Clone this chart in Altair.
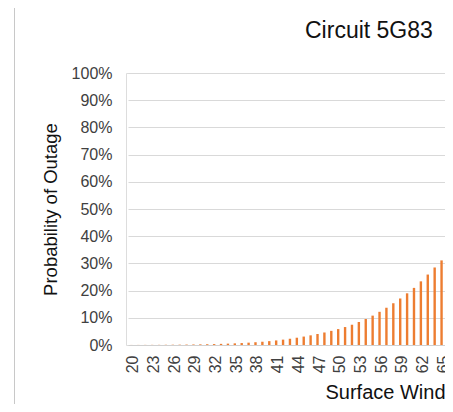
import altair as alt
import pandas as pd

# Surface wind speed categories (visible part of the chart)
wind = list(range(20, 66))
# Probability of outage in percent
prob_pct = [0.02, 0.03, 0.04, 0.05, 0.06, 0.08, 0.10, 0.12, 0.15, 0.19,
            0.23, 0.28, 0.34, 0.42, 0.50, 0.60, 0.72, 0.86, 1.02, 1.20,
            1.42, 1.68, 1.97, 2.30, 2.68, 3.10, 3.55, 4.05, 4.60, 5.20,
            5.85, 6.60, 7.45, 8.45, 9.55, 10.8, 12.2, 13.7, 15.35, 17.1,
            19.0, 21.0, 23.4, 25.9, 28.5, 31.1]
x_tick_labels = list(range(20, 66, 3))
y_tick_values = [i / 10 for i in range(11)]
chart_title = ["Circuit 5G83"]

df = pd.DataFrame({"wind": wind, "prob": [p / 100 for p in prob_pct]})
title_df = pd.DataFrame({"label": chart_title})

FONT = "Liberation Sans"

bars = alt.Chart(df).mark_bar(color="#ED7D31", size=2.4).encode(
    x=alt.X(
        "wind:O",
        sort=wind,
        scale=alt.Scale(paddingInner=0, paddingOuter=0, range=[2, 319]),
        axis=alt.Axis(
            values=x_tick_labels,
            labelAngle=270,
            labelPadding=10,
            labelOffset=2,
            labelFontSize=16,
            labelFont=FONT,
            labelColor="#404040",
            ticks=False,
            domainColor="#d0d0d0",
            domainWidth=1,
            title="Surface Wind",
            titleFont=FONT,
            titleFontSize=20,
            titleFontWeight="normal",
            titleColor="#111111",
            titleAlign="left",
            titleAnchor="start",
            titleBaseline="alphabetic",
            titleX=199,
            titleY=53,
        ),
    ),
    y=alt.Y(
        "prob:Q",
        scale=alt.Scale(domain=[0, 1]),
        axis=alt.Axis(
            values=y_tick_values,
            format=".0%",
            labelFontSize=16,
            labelFont=FONT,
            labelColor="#404040",
            labelPadding=14,
            ticks=False,
            domain=False,
            grid=True,
            gridColor="#d9d9d9",
            gridWidth=1,
            title="Probability of Outage",
            titleFont=FONT,
            titleFontSize=18.5,
            titleFontWeight="normal",
            titleColor="#111111",
            titlePadding=11,
        ),
    ),
)

title_text = alt.Chart(title_df).mark_text(
    font=FONT, fontSize=23, color="#111111", align="left", baseline="alphabetic"
).encode(
    x=alt.value(179), y=alt.value(-35), text="label:N"
)

border = alt.Chart(title_df).mark_rule(color="#c8c8c8", strokeWidth=1).encode(
    x=alt.value(-111.5), y=alt.value(-70), y2=alt.value(345)
)

chart = alt.layer(border, bars, title_text).properties(
    width=319,
    height=272,
    autosize=alt.AutoSizeParams(type="none"),
    padding={"left": 118, "top": 65, "right": 0, "bottom": 59},
).configure_view(stroke=None).configure(background="white")

chart.save("out.html", embed_options={"renderer": "svg", "actions": False})
